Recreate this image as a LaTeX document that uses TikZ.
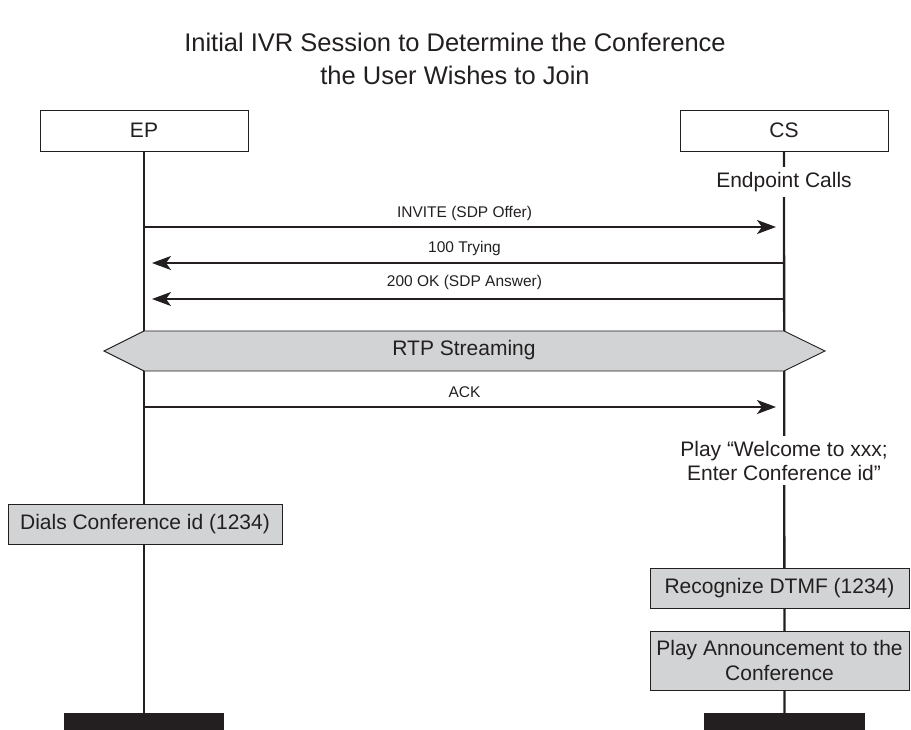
\documentclass[tikz,border=0pt]{standalone}
\usepackage{fontspec}
\setmainfont{Liberation Sans}
\usetikzlibrary{arrows.meta}
\definecolor{ink}{HTML}{231F20}
\definecolor{panel}{HTML}{D1D3D4}
\pgfdeclarelayer{lines}
\pgfsetlayers{lines,main}

\tikzset{
  headbox/.style={draw=ink, line width=0.9pt, fill=white, minimum width=208pt,
    minimum height=41pt, inner sep=0pt, text=ink, font=\fontsize{21}{24}\selectfont},
  actbox/.style={draw=ink, line width=0.9pt, fill=panel, inner sep=0pt, text=ink,
    align=center, font=\fontsize{21}{25.5}\selectfont},
  life/.style={draw=ink, line width=2.3pt},
  msg/.style={draw=ink, line width=2pt, -{Stealth[length=19pt,width=14pt,inset=5pt]}},
  msglabel/.style={inner sep=0pt, text=ink, font=\fontsize{15.5}{18}\selectfont},
  note/.style={inner sep=0pt, inner ysep=5pt, fill=white, text=ink, align=center,
    font=\fontsize{21}{24}\selectfont},
  footbar/.style={fill=ink, minimum height=17pt, inner sep=0pt},
  banner/.style={draw=ink, line width=0.9pt, fill=panel}
}

\begin{document}
\begin{tikzpicture}[x=1pt,y=-1pt]
\useasboundingbox (0,0) rectangle (911,730);

% title
\node[inner sep=0pt, text=ink, align=center, font=\fontsize{25.5}{33}\selectfont]
  (title) at (455,58.5) {Initial IVR Session to Determine the Conference\\the User Wishes to Join};

% participants
\node[headbox] (ep) at (144,130.5) {EP};
\node[headbox] (cs) at (784,130.5) {CS};
\node[footbar, minimum width=160pt] (epfoot) at (144,721.5) {};
\node[footbar, minimum width=161pt] (csfoot) at (784.5,721.5) {};

% notes on the CS lifeline
\node[note] (calls) at (784,182) {Endpoint Calls};
\node[note] (play) at (784,460.5) {Play “Welcome to xxx;\\Enter Conference id”};

% action boxes
\node[actbox, minimum width=274pt, minimum height=40pt] (dials) at (145,524)
  {Dials Conference id (1234)};
\node[actbox, minimum width=259pt, minimum height=40pt] (dtmf) at (779.5,588)
  {Recognize DTMF (1234)};
\node[actbox, minimum width=259pt, minimum height=59pt] (announce) at (779.5,660.5)
  {Play Announcement to the\\Conference};

% lifelines
\begin{pgfonlayer}{lines}
  \draw[life] (ep.south) -- (epfoot.north);
  \draw[life] (cs.south) -- (csfoot.north);
\end{pgfonlayer}

% RTP streaming banner
\path (104,351) coordinate (bL) (144,331) coordinate (bTL) (784,331) coordinate (bTR)
      (825,351) coordinate (bR) (784,371) coordinate (bBR) (144,371) coordinate (bBL);
\draw[banner] (bL) -- (bTL) -- (bTR) -- (bR) -- (bBR) -- (bBL) -- cycle;
\node[inner sep=0pt, text=ink, font=\fontsize{21}{24}\selectfont] (rtp) at (464,350) {RTP Streaming};

% message end points on the lifelines
\path (144,227) coordinate (inviteA) (776,227) coordinate (inviteB)
      (784,263) coordinate (tryA)    (152,263) coordinate (tryB)
      (784,299) coordinate (okA)     (152,299) coordinate (okB)
      (144,407) coordinate (ackA)    (776,407) coordinate (ackB);

% messages
\draw[msg] (inviteA) -- (inviteB);
\node[msglabel] (inviteL) at (464.5,213) {INVITE (SDP Offer)};
\draw[msg] (tryA) -- (tryB);
\node[msglabel] (tryL) at (464.5,248) {100 Trying};
\draw[msg] (okA) -- (okB);
\node[msglabel] (okL) at (464.5,282) {200 OK (SDP Answer)};
\draw[msg] (ackA) -- (ackB);
\node[msglabel] (ackL) at (464.5,392) {ACK};
\end{tikzpicture}
\end{document}
